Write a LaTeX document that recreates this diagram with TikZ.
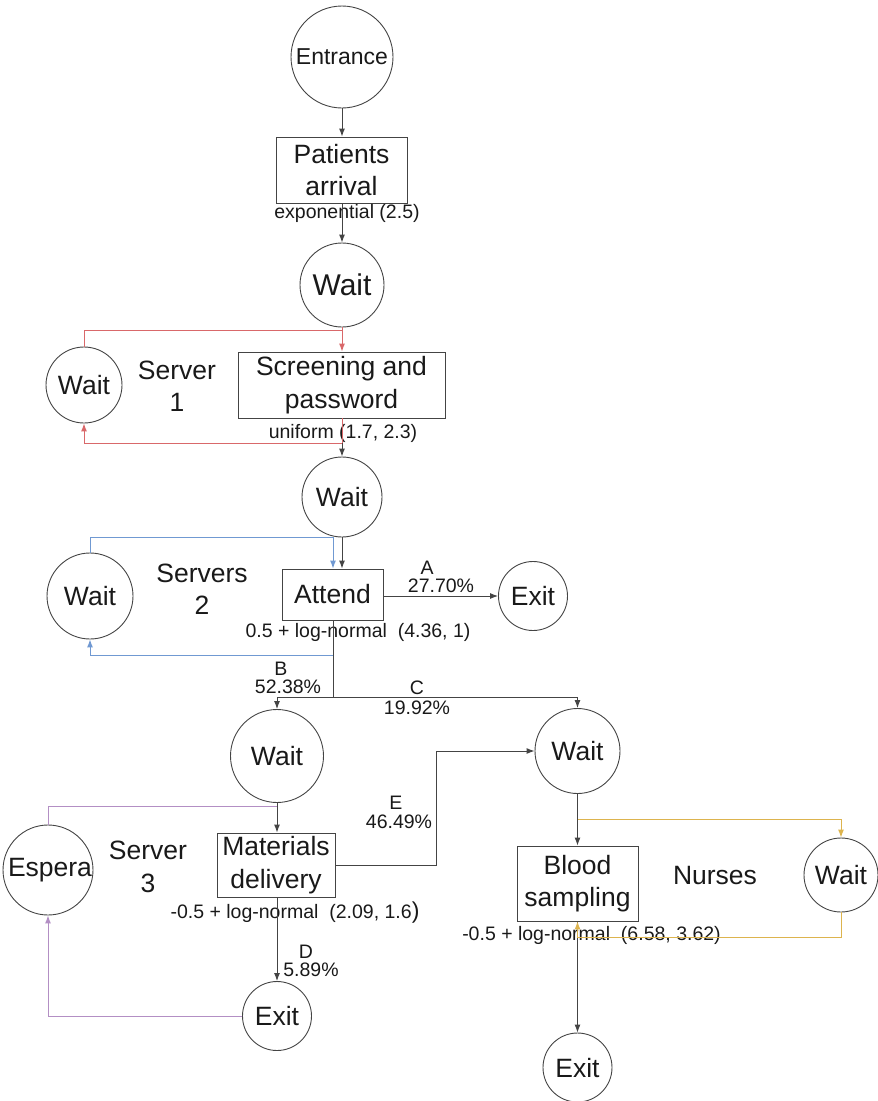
\documentclass[tikz,border=0pt]{standalone}
\usepackage{fontspec}
\setmainfont{Liberation Sans}
\usetikzlibrary{arrows.meta}
\definecolor{linegray}{HTML}{444444}
\definecolor{redln}{HTML}{D9686A}
\definecolor{blueln}{HTML}{7099D2}
\definecolor{purpleln}{HTML}{B38FC4}
\definecolor{yellowln}{HTML}{DDB44E}
\begin{document}
\begin{tikzpicture}[x=1pt,y=-1pt,
  every node/.style={inner sep=0pt, text=black!90},
  big/.style={font=\fontsize{26.5}{32.5}\selectfont, align=center},
  lbl/.style={font=\fontsize{19.5}{22}\selectfont},
  pct/.style={font=\fontsize{19.5}{18}\selectfont, align=center},
  circ/.style={circle, draw=linegray, line width=0.9pt, big},
  boxn/.style={rectangle, draw=linegray, line width=0.9pt, big},
  conn/.style={draw=linegray, line width=1pt},
  arr/.style={-{Latex[length=8,width=6]}},
]
\useasboundingbox (0,0) rectangle (878,1101);

% ---- nodes ----
\node[circ, minimum size=102, font=\fontsize{23}{27}\selectfont] (entr) at (342,57) {Entrance};
\node[boxn, minimum width=131, minimum height=66] (arrival) at (341.5,170) {Patients\\arrival};
\node[lbl] (expl) at (347,213) {exponential (2.5)};
\node[circ, minimum size=84, font=\fontsize{30}{34}\selectfont] (w1) at (342,285) {Wait};
\node[circ, minimum size=76] (wl1) at (84,385) {Wait};
\node[big] (srv1) at (177,386) {Server\\1};
\node[boxn, minimum width=207, minimum height=66] (screen) at (341.5,385) {Screening and\\password};
\node[lbl] (unil) at (343,433) {uniform (1.7, 2.3)};
\node[circ, minimum size=80] (w2) at (342,497) {Wait};
\node[circ, minimum size=86] (wl2) at (90,596) {Wait};
\node[big] (srv2) at (202,589) {Servers\\2};
\node[boxn, minimum width=101, minimum height=51] (attend) at (332.5,594.5) {Attend};
\node[circ, minimum size=69] (exA) at (533,596) {Exit};
\node[pct] (la) at (441,577) {\hspace*{-28pt}A\\27.70\%};
\node[lbl] (attl) at (358,632) {0.5 + log-normal\ \ (4.36, 1)};
\node[pct] (lb) at (288,678) {\hspace*{-14pt}B\\52.38\%};
\node[pct] (lc) at (417,698) {C\\[2pt]19.92\%};
\node[circ, minimum size=93] (w3) at (277,756) {Wait};
\node[circ, minimum size=85] (w4) at (577.5,751) {Wait};
\node[pct] (le) at (399,812) {\hspace*{-6pt}E\\[1pt]46.49\%};
\node[circ, minimum size=90] (espera) at (48,870) {};
\node[big] (esperat) at (50,870) {Espera};
\node[big] (srv3) at (148,867) {Server\\3};
\node[boxn, minimum width=118, minimum height=64] (mat) at (276,865) {Materials\\delivery};
\node[lbl] (matl) at (295,913) {-0.5 + log-normal\ \ (2.09, 1.6\fontsize{23}{24}\selectfont)};
\node[pct] (ld) at (311,961) {\hspace*{-10pt}D\\5.89\%};
\node[circ, minimum size=69] (exD) at (277,1016) {Exit};
\node[boxn, minimum width=121, minimum height=75] (blood) at (577.5,883.5) {Blood\\sampling};
\node[big] (nurses) at (715,876) {Nurses};
\node[circ, minimum size=74] (wr) at (841,875) {Wait};
\node[lbl] (bldl) at (591.5,935) {-0.5 + log-normal\ \ (6.58, 3.62)};
\node[circ, minimum size=69] (exB) at (577.5,1067.5) {Exit};

% ---- junction points ----
\coordinate (rj) at (342,330);
\coordinate (rb) at (342,443);
\coordinate (bj) at (333,537);
\coordinate (ab) at (333,655);
\coordinate (br) at (333,697);
\coordinate (pj) at (277,806);
\coordinate (yj) at (577.5,819);
\coordinate (yb) at (577.5,937);

% ---- main flow ----
\draw[conn, arr] (entr.south) -- (arrival.north -| entr.south);
\draw[conn, arr] (arrival.south -| w1.north) -- (w1.north);

% server 1 loop (red)
\draw[conn, draw=redln] (w1.south) -- (rj) -| (wl1.north);
\draw[conn, draw=redln, arr] (rj) -- (screen.north -| rj);
\draw[conn, draw=redln, arr] (screen.south -| rb) -- (rb) -| (wl1.south);
\draw[conn, arr] (rb) -- (w2.north);

% servers 2 loop (blue)
\draw[conn, draw=blueln, arr] (wl2.north) |- (bj) -- (bj |- attend.north);
\draw[conn, arr] (w2.south) -- (w2.south |- attend.north);
\draw[conn, arr] (attend.east |- exA.west) -- (exA.west);
\draw[conn] (attend.south -| br) -- (br);
\draw[conn, draw=blueln, arr] (ab) -| (wl2.south);

% branches B and C
\draw[conn, arr] (br) -| (w3.north);
\draw[conn, arr] (br) -| (w4.north);

% server 3 (purple)
\draw[conn, draw=purpleln] (pj) -| (espera.north);
\draw[conn, arr] (w3.south) -- (mat.north -| w3.south);
\draw[conn, arr] (mat.east) -- ++(101,0) |- (w4.west);
\draw[conn, arr] (mat.south -| exD.north) -- (exD.north);
\draw[conn, draw=purpleln, arr] (exD.west) -| (espera.south);

% nurses (yellow)
\draw[conn, arr] (w4.south) -- (blood.north);
\draw[conn, draw=yellowln, arr] (yj) -| (wr.north);
\draw[conn, arr] (blood.south) -- (exB.north);
\draw[conn, draw=yellowln, arr] (wr.south) |- (yb) -- (blood.south);
\end{tikzpicture}
\end{document}
